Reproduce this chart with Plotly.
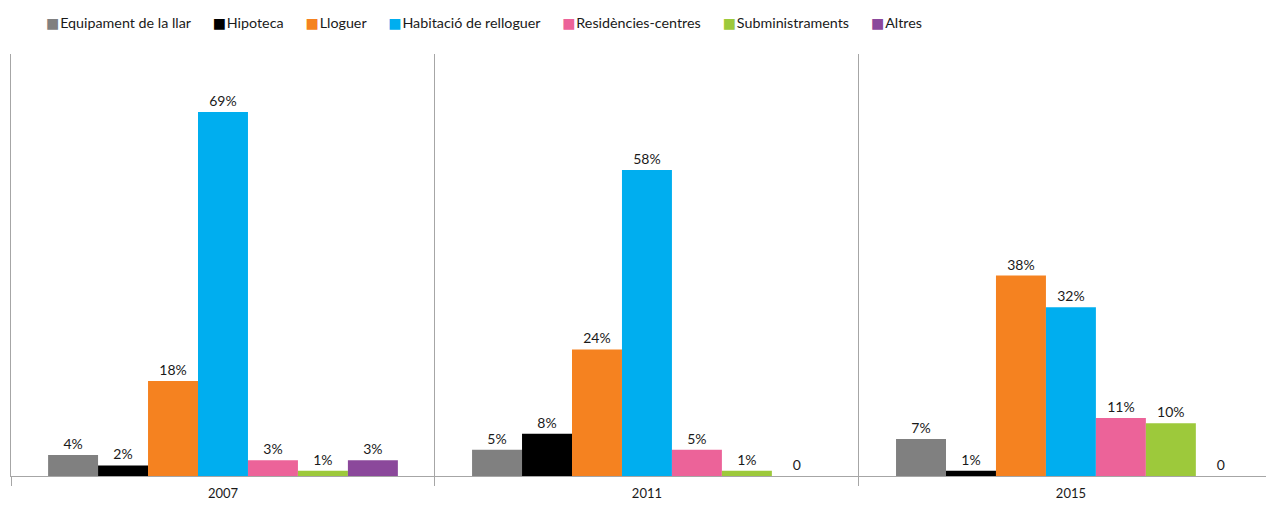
import plotly.graph_objects as go

years = ["2007", "2011", "2015"]
series_names = ["Equipament de la llar", "Hipoteca", "Lloguer", "Habitació de relloguer",
                "Residències-centres", "Subministraments", "Altres"]
equipament = [0.04, 0.05, 0.07]
hipoteca = [0.02, 0.08, 0.01]
lloguer = [0.18, 0.24, 0.38]
relloguer = [0.69, 0.58, 0.32]
residencies = [0.03, 0.05, 0.11]
subministraments = [0.01, 0.01, 0.10]
altres = [0.03, 0.0, 0.0]
series_values = [equipament, hipoteca, lloguer, relloguer, residencies, subministraments, altres]
colors = ["#808080", "#000000", "#F58220", "#00AEEF", "#EC6399", "#9DC93B", "#8B489B"]

FONT = "Lato, 'Open Sans', sans-serif"
TXT = "#1a1a1a"

def label(v):
    return f"{round(v * 100)}%" if v > 0 else "0"

fig = go.Figure()
for name, vals, col in zip(series_names, series_values, colors):
    fig.add_trace(go.Bar(
        x=years, y=vals, name=name, marker=dict(color=col, line=dict(width=0)),
        text=[label(v) for v in vals], textposition="outside", cliponaxis=False,
        textfont=dict(family=FONT, size=14, color=TXT),
    ))

# legend drawn as one line of text so the item spacing follows the reference
legend_text = "&nbsp;&nbsp;&nbsp;&nbsp;&nbsp;&nbsp;".join(
    f"<span style='color:{c};font-size:14px;font-family:DejaVu Sans'>■</span>\u200a{n}"
    for n, c in zip(series_names, colors)
)

fig.update_layout(
    width=1266, height=497,
    margin=dict(l=3, r=0, t=46, b=29),
    paper_bgcolor="white", plot_bgcolor="white",
    barmode="group", bargap=0.175, bargroupgap=0,
    font=dict(family=FONT, size=14, color=TXT),
    showlegend=False,
    xaxis=dict(type="category", range=[-0.5, 2.479], tickson="boundaries",
               ticks="outside", ticklen=9, tickcolor="#a6a6a6",
               showgrid=True, gridcolor="#a6a6a6", gridwidth=1,
               showline=True, linecolor="#a6a6a6", linewidth=1,
               ticklabelstandoff=5,
               tickfont=dict(family=FONT, size=13, color=TXT)),
    yaxis=dict(range=[0, 0.8], showgrid=False, zeroline=False, showticklabels=False,
               showline=True, linecolor="#a6a6a6", linewidth=1, ticks=""),
    annotations=[dict(text=legend_text, xref="paper", yref="paper", x=0.026, y=1.0758,
                      xanchor="left", yanchor="middle", showarrow=False,
                      font=dict(family=FONT, size=14.3, color=TXT))],
)

fig.write_html("out.html")
